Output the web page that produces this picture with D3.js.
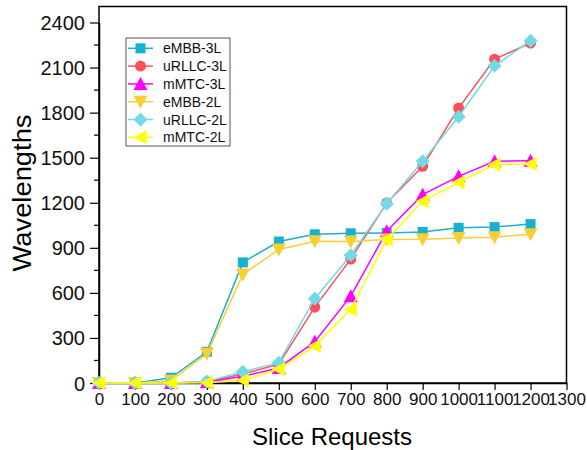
<!DOCTYPE html>
<html>
<head>
<meta charset="utf-8">
<script src="https://cdn.jsdelivr.net/npm/d3@7"></script>
<style>
  body { margin: 0; background: #fff; }
  svg { font-family: "Liberation Sans", Arial, sans-serif; }
</style>
</head>
<body>
<svg id="chart" width="587" height="450"></svg>
<script>
// data
const requests = [0, 100, 200, 300, 400, 500, 600, 700, 800, 900, 1000, 1100, 1200];
const embb3L = [0, 0, 35, 208, 803, 942, 990, 997, 999, 1006, 1033, 1038, 1058];
const urllc3L = [0, 0, 0, 8, 60, 125, 505, 825, 1198, 1443, 1830, 2156, 2263];
const mmtc3L = [0, 0, 0, 5, 45, 100, 275, 578, 1010, 1254, 1376, 1476, 1480];
const embb2L = [0, 0, 15, 195, 723, 889, 944, 942, 955, 957, 966, 971, 990];
const urllc2L = [0, 0, 0, 10, 75, 135, 561, 851, 1194, 1476, 1773, 2112, 2278];
const mmtc2L = [0, 0, 0, 2, 18, 92, 246, 490, 955, 1210, 1336, 1454, 1458];
const xTicks = d3.range(0, 1301, 100);
const yTicks = d3.range(0, 2401, 300);

const series = [
  { name: 'eMBB-3L', values: embb3L, color: '#17b0d0', sym: 'square' },
  { name: 'uRLLC-3L', values: urllc3L, color: '#ff4f57', sym: 'circle' },
  { name: 'mMTC-3L', values: mmtc3L, color: '#ff00ff', sym: 'up' },
  { name: 'eMBB-2L', values: embb2L, color: '#f7cf35', sym: 'down' },
  { name: 'uRLLC-2L', values: urllc2L, color: '#72d9e6', sym: 'diamond' },
  { name: 'mMTC-2L', values: mmtc2L, color: '#ffff00', sym: 'left' }
];

const svg = d3.select('#chart');
const m = { left: 99, right: 566.5, top: 6.5, bottom: 383 };

const x = d3.scaleLinear().domain([0, 1300]).range([m.left, m.right]);
const y = d3.scaleLinear().domain([0, 2400]).range([m.bottom, 22.5]);

// frame
svg.append('rect')
  .attr('x', m.left).attr('y', m.top)
  .attr('width', m.right - m.left).attr('height', m.bottom - m.top)
  .attr('fill', 'none').attr('stroke', '#000').attr('stroke-width', 1.5);

// axes
const xAxis = svg.append('g')
  .attr('transform', `translate(0,${m.bottom})`)
  .call(d3.axisBottom(x).tickValues(xTicks).tickFormat(d3.format('d'))
    .tickSize(7).tickSizeOuter(0).tickPadding(3));
const yAxis = svg.append('g')
  .attr('transform', `translate(${m.left},0)`)
  .call(d3.axisLeft(y).tickValues(yTicks).tickFormat(d3.format('d'))
    .tickSize(9).tickSizeOuter(0).tickPadding(5));

// minor y ticks
svg.append('g').selectAll('line')
  .data(d3.range(150, 2400, 300))
  .join('line')
  .attr('x1', m.left - 5).attr('x2', m.left)
  .attr('y1', d => y(d)).attr('y2', d => y(d))
  .attr('stroke', '#000').attr('stroke-width', 1.2);

[xAxis, yAxis].forEach(a => {
  a.select('.domain').attr('stroke-width', 1.5);
  a.selectAll('.tick line').attr('stroke-width', 1.2);
  a.selectAll('.tick text').attr('fill', '#111')
    .attr('font-family', '"Liberation Sans", Arial, sans-serif');
});
xAxis.selectAll('.tick text').attr('font-size', 17);
yAxis.selectAll('.tick text').attr('font-size', 20).attr('dy', '0.35em');

// axis titles
svg.append('text')
  .attr('x', 332).attr('y', 445)
  .attr('text-anchor', 'middle')
  .attr('font-size', 24)
  .text('Slice Requests');
svg.append('text')
  .attr('transform', 'translate(31,193) rotate(-90)')
  .attr('text-anchor', 'middle')
  .attr('font-size', 25)
  .attr('textLength', 157)
  .attr('lengthAdjust', 'spacingAndGlyphs')
  .text('Wavelengths');

function marker(g, sym, color) {
  const s = 6;
  if (sym === 'square') {
    g.append('rect').attr('x', -s + 1).attr('y', -s + 1).attr('width', 2 * s - 2).attr('height', 2 * s - 2).attr('fill', color);
  } else if (sym === 'circle') {
    g.append('circle').attr('r', s - 0.5).attr('fill', color);
  } else if (sym === 'diamond') {
    g.append('path').attr('d', `M0,${-s - 1}L${s + 1},0L0,${s + 1}L${-s - 1},0Z`).attr('fill', color);
  } else {
    const pts = { up: [[0, -s - 1], [s + 1, s], [-s - 1, s]],
                  down: [[0, s + 1], [s + 1, -s], [-s - 1, -s]],
                  left: [[-s - 1, 0], [s, -s - 1], [s, s + 1]] }[sym];
    g.append('path').attr('d', 'M' + pts.map(p => p.join(',')).join('L') + 'Z').attr('fill', color);
  }
}

const line = d3.line()
  .x((d, i) => x(requests[i]))
  .y(d => y(d));

series.forEach(s => {
  svg.append('path')
    .datum(s.values)
    .attr('fill', 'none')
    .attr('stroke', s.color)
    .attr('stroke-width', 1.5)
    .attr('d', line);
  s.values.forEach((v, i) => {
    marker(svg.append('g').attr('transform', `translate(${x(requests[i])},${y(v)})`), s.sym, s.color);
  });
});

// legend
const legend = svg.append('g');
legend.append('rect')
  .attr('x', 126).attr('y', 38).attr('width', 104).attr('height', 108)
  .attr('fill', '#fff').attr('stroke', '#555').attr('stroke-width', 1);
series.forEach((s, i) => {
  const ly = 48.3 + i * 17.8;
  const g = legend.append('g');
  g.append('line').attr('x1', 128).attr('x2', 153).attr('y1', ly).attr('y2', ly)
    .attr('stroke', s.color).attr('stroke-width', 1.5);
  marker(g.append('g').attr('transform', `translate(140.5,${ly})`), s.sym, s.color);
  g.append('text').attr('x', 163).attr('y', ly + 5)
    .attr('font-size', 14).attr('fill', '#111').text(s.name);
});
</script>
</body>
</html>
